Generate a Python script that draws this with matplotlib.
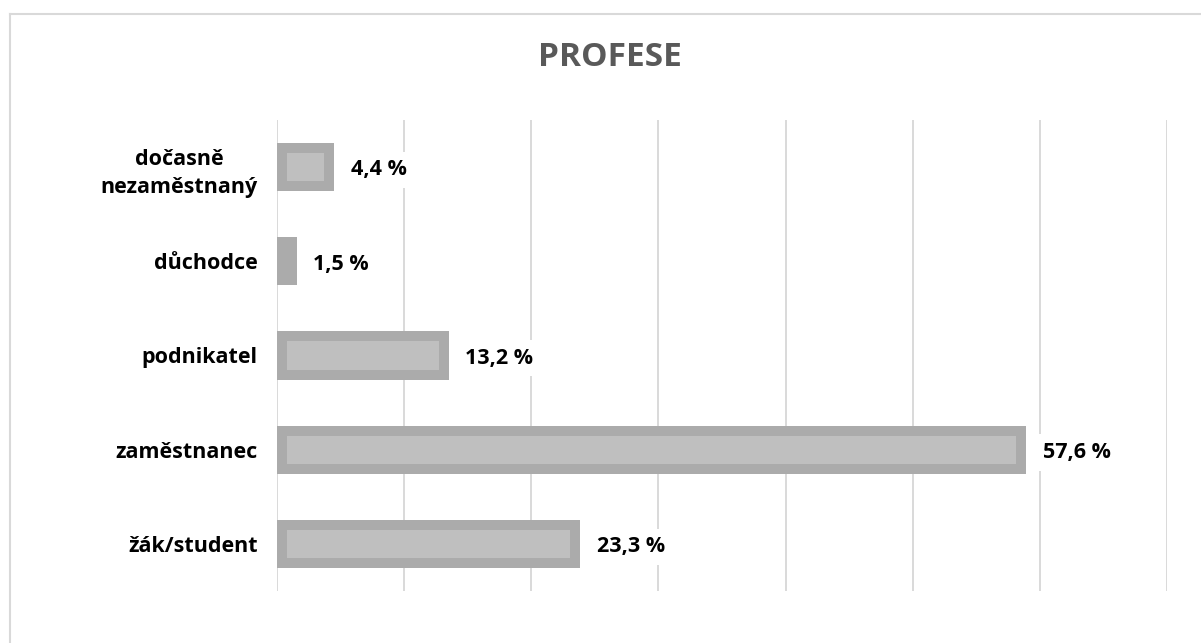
import numpy as np
import matplotlib
matplotlib.use('Agg')
import matplotlib.pyplot as plt
from matplotlib.lines import Line2D

plt.rcParams['font.family'] = ['Open Sans', 'DejaVu Sans']

# --- data (top -> bottom as in the picture) ---
categories = ['dočasně\nnezaměstnaný', 'důchodce', 'podnikatel', 'zaměstnanec', 'žák/student']
values = [4.4, 1.5, 13.2, 57.6, 23.3]
title = 'PROFESE'

# --- styles ---
edge_col = '#ababab'
fill_col = '#bfbfbf'
grid_col = '#d9d9d9'

fig = plt.figure(figsize=(12.01, 6.43), dpi=100)
ax = fig.add_axes([277 / 1201, 52 / 643, 890 / 1201, 471 / 643])

y = np.arange(len(categories))[::-1]
bars = ax.barh(y, values, height=0.51, color=fill_col, edgecolor=edge_col,
               linewidth=14.4, zorder=2)
# border drawn on the inside of the bar (clip the stroke to the bar itself)
for p in bars:
    p.set_clip_path(p)

for yi, v in zip(y, values):
    ax.annotate(f'{v:.1f} %'.replace('.', ','), xy=(v, yi), xytext=(12, -2),
                textcoords='offset points', va='center', ha='left',
                fontsize=15.5, fontweight='bold', color='black', zorder=4,
                bbox=dict(boxstyle='square,pad=0.35', fc='white', ec='none'))

ax.set_xlim(0, 68.4)
ax.set_ylim(-0.5, len(categories) - 0.5)
ax.set_xticks(np.linspace(0, 68.4, 8))
ax.set_xticklabels([])
ax.set_yticks(y)
ax.set_yticklabels(categories, fontsize=15.5, fontweight='bold', color='black',
                   multialignment='center', linespacing=1.45)
ax.tick_params(axis='both', length=0)
ax.tick_params(axis='y', pad=14)
ax.grid(axis='x', color=grid_col, linewidth=1.4)
ax.set_axisbelow(True)
for s in ax.spines.values():
    s.set_visible(False)

fig.text(610 / 1201, 1 - 57 / 643, title, ha='center', va='center',
         fontsize=24, fontweight='bold', color='#595959')

# chart frame (only top and left edges visible)
fig.add_artist(Line2D([10 / 1201, 1], [1 - 14 / 643] * 2, color=grid_col, linewidth=1.5))
fig.add_artist(Line2D([10 / 1201] * 2, [0, 1 - 14 / 643], color=grid_col, linewidth=1.5))

fig.savefig('out.png', dpi=100)
